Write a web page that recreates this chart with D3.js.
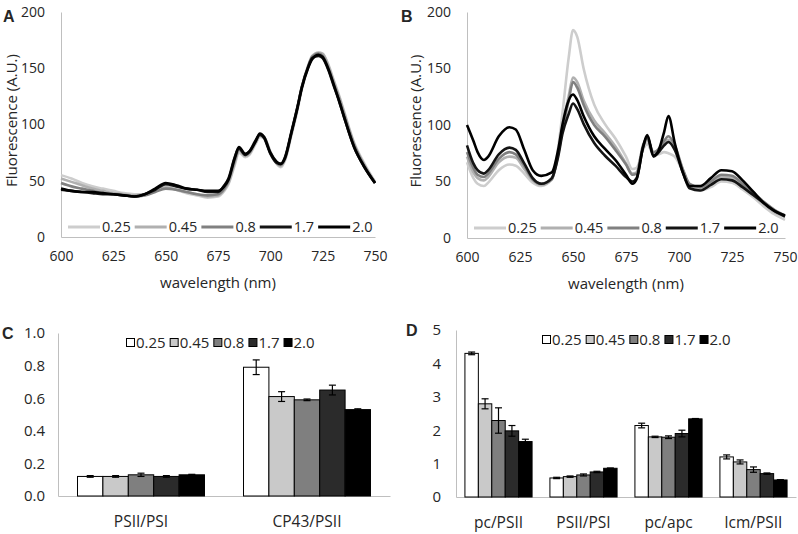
<!DOCTYPE html>
<html>
<head>
<meta charset="utf-8">
<script src="https://cdn.jsdelivr.net/npm/d3@7"></script>
<style>
  body { margin: 0; background: #fff; }
  svg { display: block; }
  text { font-family: "Open Sans", sans-serif; fill: #262626; }
</style>
</head>
<body>
<svg id="fig" width="798" height="534"></svg>
<script>
// Four-panel figure: two emission spectra (A, B) and two ratio bar charts (C, D).

const SERIES = ["0.25", "0.45", "0.8", "1.7", "2.0"];
const WAVE_TICKS = [600, 625, 650, 675, 700, 725, 750];
const FLUO_TICKS = [0, 50, 100, 150, 200];

// ─── panel A spectra ───────────────────────────────────────────────────
const WAVE_A = [600, 605, 610, 615, 620, 625, 630, 635, 640, 645, 650, 655, 660, 665, 670, 675, 678, 680,
  683, 685, 688, 690, 693, 695, 697, 700, 703, 705, 707, 710, 713, 715, 718, 720, 723, 725, 728, 730,
  733, 735, 740, 745, 750];
const A_025 = [55, 52, 48, 45, 43, 41, 39, 38, 38, 41, 45, 42, 39, 37, 35, 36, 41, 47, 64, 75, 71, 73, 83,
  89, 88, 75, 65, 62, 68, 90, 113, 131, 150, 159, 162, 162, 152, 141, 125, 113, 84, 65, 49];
const A_045 = [52, 49, 46, 43, 41, 39, 38, 37, 38, 41, 44, 42, 40, 38, 36, 37, 42, 48, 66, 77, 72, 74, 84,
  90, 89, 76, 66, 63, 69, 91, 115, 133, 152, 161, 164, 163, 151, 140, 124, 112, 83, 64, 49];
const A_08 = [48, 45, 43, 41, 39, 38, 37, 36, 37, 40, 43, 42, 40, 38, 37, 38, 43, 50, 68, 78, 73, 75, 85,
  91, 89, 75, 66, 64, 70, 92, 116, 133, 151, 160, 163, 161, 149, 138, 122, 110, 82, 63, 48];
const A_17 = [42, 41, 40, 39, 38, 38, 37, 36, 38, 42, 47, 45, 43, 42, 40, 40, 46, 52, 71, 79, 73, 76, 86,
  91, 88, 74, 66, 65, 71, 93, 116, 133, 151, 159, 161, 159, 147, 136, 120, 108, 80, 62, 48];
const A_20 = [43, 41, 40, 40, 39, 38, 37, 36, 38, 43, 48, 46, 43, 42, 41, 41, 45, 51, 70, 80, 74, 76, 85,
  92, 89, 75, 67, 65, 70, 92, 115, 132, 150, 158, 162, 160, 148, 137, 120, 108, 80, 62, 48];

// ─── panel B spectra ───────────────────────────────────────────────────
const WAVE_B = [600, 603, 605, 608, 610, 615, 620, 623, 627, 631, 635, 640, 643, 645, 648, 650, 652, 655,
  660, 665, 670, 675, 678, 680, 683, 685, 688, 690, 693, 695, 698, 702, 705, 710, 715, 720, 725, 730,
  735, 740, 745, 750];
const B_025 = [67, 53, 48, 46, 49, 60, 65, 64, 57, 49, 46, 52, 80, 110, 160, 184, 178, 150, 118, 101, 88,
  72, 61, 62, 78, 83, 74, 74, 76, 75, 72, 58, 46, 42, 45, 50, 49, 43, 36, 28, 21, 16];
const B_045 = [72, 58, 53, 51, 54, 67, 72, 71, 61, 51, 47, 52, 75, 98, 126, 142, 138, 122, 104, 93, 81,
  66, 57, 58, 80, 86, 75, 77, 83, 87, 80, 59, 47, 44, 48, 54, 53, 46, 38, 30, 23, 19];
const B_08 = [76, 62, 56, 54, 57, 70, 76, 74, 64, 52, 48, 52, 74, 95, 122, 138, 133, 118, 100, 90, 78,
  65, 56, 57, 82, 88, 76, 78, 86, 90, 82, 60, 48, 45, 50, 56, 55, 48, 40, 32, 25, 20];
const B_17 = [82, 66, 60, 57, 60, 74, 80, 78, 66, 53, 48, 53, 72, 92, 110, 119, 114, 101, 84, 73, 64,
  54, 50, 53, 80, 90, 72, 75, 82, 85, 78, 57, 44, 42, 47, 52, 51, 45, 38, 31, 24, 19];
const B_20 = [100, 86, 76, 69, 72, 90, 98, 96, 78, 60, 55, 58, 78, 100, 122, 127, 122, 108, 90, 79, 69,
  56, 48, 52, 80, 91, 73, 76, 94, 108, 84, 57, 46, 46, 53, 60, 59, 51, 41, 31, 24, 20];

// ─── panel C ratios ────────────────────────────────────────────────────
const CATS_C = ["PSII/PSI", "CP43/PSII"];
const C_VALUES = [
  [0.12, 0.79],
  [0.12, 0.61],
  [0.13, 0.59],
  [0.12, 0.65],
  [0.13, 0.53],
];
const C_ERRORS = [
  [0.005, 0.045],
  [0.005, 0.03],
  [0.01, 0.005],
  [0.005, 0.03],
  [0.003, 0.005],
];
const C_TICKS = [0, 0.2, 0.4, 0.6, 0.8, 1.0];

// ─── panel D ratios ────────────────────────────────────────────────────
const CATS_D = ["pc/PSII", "PSII/PSI", "pc/apc", "lcm/PSII"];
const D_VALUES = [
  [4.3, 0.57, 2.14, 1.2],
  [2.79, 0.61, 1.8, 1.05],
  [2.29, 0.66, 1.79, 0.82],
  [1.98, 0.75, 1.9, 0.7],
  [1.66, 0.86, 2.34, 0.51],
];
const D_ERRORS = [
  [0.04, 0.02, 0.07, 0.06],
  [0.15, 0.02, 0.02, 0.06],
  [0.38, 0.03, 0.04, 0.08],
  [0.16, 0.02, 0.1, 0.02],
  [0.07, 0.01, 0.01, 0.01],
];
const D_TICKS = [0, 1, 2, 3, 4, 5];

const LINE_COLORS = ["#cdcdcd", "#b0b0b0", "#808080", "#141414", "#000000"];
const BAR_COLORS = ["#ffffff", "#c9c9c9", "#7f7f7f", "#2b2b2b", "#000000"];
const AXIS_COLOR = "#bfbfbf";

const svg = d3.select("#fig");

function styleAxis(sel, size) {
  sel.select(".domain").attr("stroke", AXIS_COLOR).attr("stroke-width", 1);
  sel.selectAll(".tick line").remove();
  sel.selectAll("text")
    .attr("font-size", size)
    .attr("fill", "#262626")
    .style("font-family", '"Open Sans", sans-serif');
}

function panelLabel(x, y, txt) {
  svg.append("text")
    .attr("x", x).attr("y", y)
    .attr("font-size", 16)
    .attr("font-weight", 700)
    .style("font-family", '"Liberation Sans", Arial, sans-serif')
    .text(txt);
}

// ─── spectra panels ────────────────────────────────────────────────────
function spectrum(box, wave, series) {
  const x = d3.scaleLinear().domain([600, 750]).range([box.left, box.right]);
  const y = d3.scaleLinear().domain([0, 200]).range([box.bottom, box.top]);
  const g = svg.append("g");

  g.append("g")
    .attr("transform", `translate(0,${box.bottom})`)
    .call(d3.axisBottom(x).tickValues(WAVE_TICKS).tickSize(0).tickSizeOuter(0).tickPadding(14))
    .call((s) => styleAxis(s, 14));
  g.append("g")
    .attr("transform", `translate(${box.left},0)`)
    .call(d3.axisLeft(y).tickValues(FLUO_TICKS).tickSize(0).tickSizeOuter(0).tickPadding(16))
    .call((s) => styleAxis(s, 14));

  g.append("text")
    .attr("transform", `translate(${box.titleX},${(box.top + box.bottom) / 2 - 4}) rotate(-90)`)
    .attr("text-anchor", "middle")
    .attr("font-size", 15)
    .text("Fluorescence (A.U.)");
  g.append("text")
    .attr("x", (box.left + box.right) / 2)
    .attr("y", box.bottom + 51)
    .attr("text-anchor", "middle")
    .attr("font-size", 15)
    .text("wavelength (nm)");

  const line = d3.line()
    .x((d, i) => x(wave[i]))
    .y((d) => y(d))
    .curve(d3.curveMonotoneX);

  g.append("g")
    .selectAll("path")
    .data(series)
    .join("path")
    .attr("d", line)
    .attr("fill", "none")
    .attr("stroke", (d, i) => LINE_COLORS[i])
    .attr("stroke-width", 2.6)
    .attr("stroke-linejoin", "round");

  // Excel style legend inside the plot, along the bottom
  const leg = g.append("g").attr("transform", `translate(${box.legendX},${box.bottom - 10})`);
  let cx = 0;
  SERIES.forEach((name, i) => {
    leg.append("line")
      .attr("x1", cx).attr("x2", cx + 32)
      .attr("y1", 0).attr("y2", 0)
      .attr("stroke", LINE_COLORS[i])
      .attr("stroke-width", 3);
    const t = leg.append("text")
      .attr("x", cx + 34)
      .attr("y", 5)
      .attr("font-size", 14.5)
      .text(name);
    cx += 34 + t.node().getComputedTextLength() + 4;
  });
}

spectrum({ left: 61, right: 375, top: 12, bottom: 237, titleX: 17, legendX: 68 },
  WAVE_A, [A_025, A_045, A_08, A_17, A_20]);
spectrum({ left: 467, right: 785, top: 12, bottom: 238, titleX: 421, legendX: 474 },
  WAVE_B, [B_025, B_045, B_08, B_17, B_20]);

// ─── bar panels ────────────────────────────────────────────────────────
function bars(box, cats, values, errors, yMax, ticks, fmt, pad) {
  const x0 = d3.scaleBand().domain(cats).range([box.left, box.right])
    .paddingInner(pad).paddingOuter(pad / 2);
  const x1 = d3.scaleBand().domain(SERIES).range([0, x0.bandwidth()]);
  const y = d3.scaleLinear().domain([0, yMax]).range([box.bottom, box.top]);
  const g = svg.append("g");

  g.append("g")
    .attr("transform", `translate(0,${box.bottom})`)
    .call(d3.axisBottom(x0).tickSize(0).tickSizeOuter(0).tickPadding(20))
    .call((s) => styleAxis(s, 15.5));
  g.append("g")
    .attr("transform", `translate(${box.left},0)`)
    .call(d3.axisLeft(y).tickValues(ticks).tickFormat(fmt).tickSize(0).tickSizeOuter(0).tickPadding(box.tickPad))
    .call((s) => styleAxis(s, 15));

  const flat = [];
  SERIES.forEach((s, si) => {
    cats.forEach((c, ci) => {
      flat.push({ s, si, c, v: values[si][ci], e: errors[si][ci] });
    });
  });

  g.append("g")
    .selectAll("rect")
    .data(flat)
    .join("rect")
    .attr("x", (d) => x0(d.c) + x1(d.s))
    .attr("y", (d) => y(d.v))
    .attr("width", x1.bandwidth())
    .attr("height", (d) => y(0) - y(d.v))
    .attr("fill", (d) => BAR_COLORS[d.si])
    .attr("stroke", "#000")
    .attr("stroke-width", 1);

  const err = g.append("g").attr("stroke", "#000").attr("stroke-width", 1.2);
  flat.forEach((d) => {
    const cx = x0(d.c) + x1(d.s) + x1.bandwidth() / 2;
    const lo = y(d.v - d.e), hi = y(d.v + d.e);
    err.append("line").attr("x1", cx).attr("x2", cx).attr("y1", lo).attr("y2", hi);
    err.append("line").attr("x1", cx - 3.5).attr("x2", cx + 3.5).attr("y1", lo).attr("y2", lo);
    err.append("line").attr("x1", cx - 3.5).attr("x2", cx + 3.5).attr("y1", hi).attr("y2", hi);
  });

  // square swatch legend across the top
  const leg = g.append("g").attr("transform", `translate(${box.legendX},${box.top + 10})`);
  let cx = 0;
  SERIES.forEach((name, i) => {
    leg.append("rect")
      .attr("x", cx + 0.5).attr("y", -4.5)
      .attr("width", 8).attr("height", 8)
      .attr("fill", BAR_COLORS[i])
      .attr("stroke", "#000");
    const t = leg.append("text")
      .attr("x", cx + 10)
      .attr("y", 5)
      .attr("font-size", 15)
      .text(name);
    cx += 10 + t.node().getComputedTextLength() + 4;
  });
}

bars({ left: 58, right: 390, top: 333, bottom: 496, tickPad: 13, legendX: 126 },
  CATS_C, C_VALUES, C_ERRORS, 1.0, C_TICKS, d3.format(".1f"), 0.235);
bars({ left: 456, right: 796, top: 330, bottom: 497, tickPad: 15, legendX: 542 },
  CATS_D, D_VALUES, D_ERRORS, 5, D_TICKS, d3.format("d"), 0.21);

panelLabel(3, 22, "A");
panelLabel(401, 22, "B");
panelLabel(2, 339, "C");
panelLabel(406, 336, "D");
</script>
</body>
</html>
